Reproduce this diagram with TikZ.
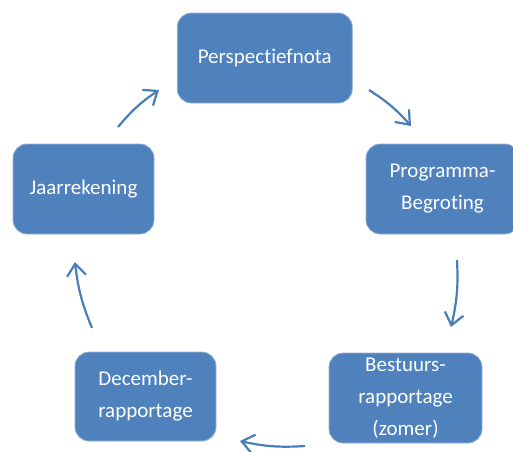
\documentclass[tikz,border=0pt]{standalone}
\usepackage{fontspec}
\setmainfont{Carlito}[RawFeature={-liga}]
\usepackage{tikz}
\usetikzlibrary{arrows.meta}

\definecolor{stageblue}{HTML}{4F81BD}
\definecolor{arrowblue}{HTML}{4A7EBB}

\begin{document}
\begin{tikzpicture}[x=1pt,y=-1pt]
    \tikzset{stage/.style={rectangle, rounded corners=14pt, fill=stageblue,
        draw=stageblue!60!white, line width=0.8pt, text=white, inner sep=0pt,
        minimum height=90pt, align=center,
        font=\fontsize{21}{32}\selectfont}}
    \tikzset{cyclearrow/.style={arrowblue, line width=2.2pt,
        -{Straight Barb[length=12pt,width=19pt,line width=2.2pt]}, bend left=8}}
    \useasboundingbox (0,0) rectangle (513,451);
    \node[stage, minimum width=175pt] (persp) at (264.75,58) {Perspectiefnota};
    \node[stage, minimum width=153pt] (prog) at (442.5,189) {Programma-\\Begroting};
    \node[stage, minimum width=153pt] (best) at (405.5,398) {Bestuurs-\\rapportage\\(zomer)};
    \node[stage, minimum width=141pt, minimum height=89pt] (dec) at (145.5,396.5) {December-\\rapportage};
    \node[stage, minimum width=141pt] (jaar) at (83.5,189) {Jaarrekening};
    % arrow ends
    \coordinate (a1s) at (369,90);  \coordinate (a1e) at (411,126);
    \coordinate (a2s) at (457,260); \coordinate (a2e) at (451,327);
    \coordinate (a3s) at (305,446); \coordinate (a3e) at (240,441);
    \coordinate (a4s) at (92,328);  \coordinate (a4e) at (75,262);
    \coordinate (a5s) at (118,127); \coordinate (a5e) at (159,90);
    \draw[cyclearrow] (a1s) to (a1e);
    \draw[cyclearrow] (a2s) to (a2e);
    \draw[cyclearrow] (a3s) to (a3e);
    \draw[cyclearrow] (a4s) to (a4e);
    \draw[cyclearrow] (a5s) to (a5e);
\end{tikzpicture}
\end{document}
